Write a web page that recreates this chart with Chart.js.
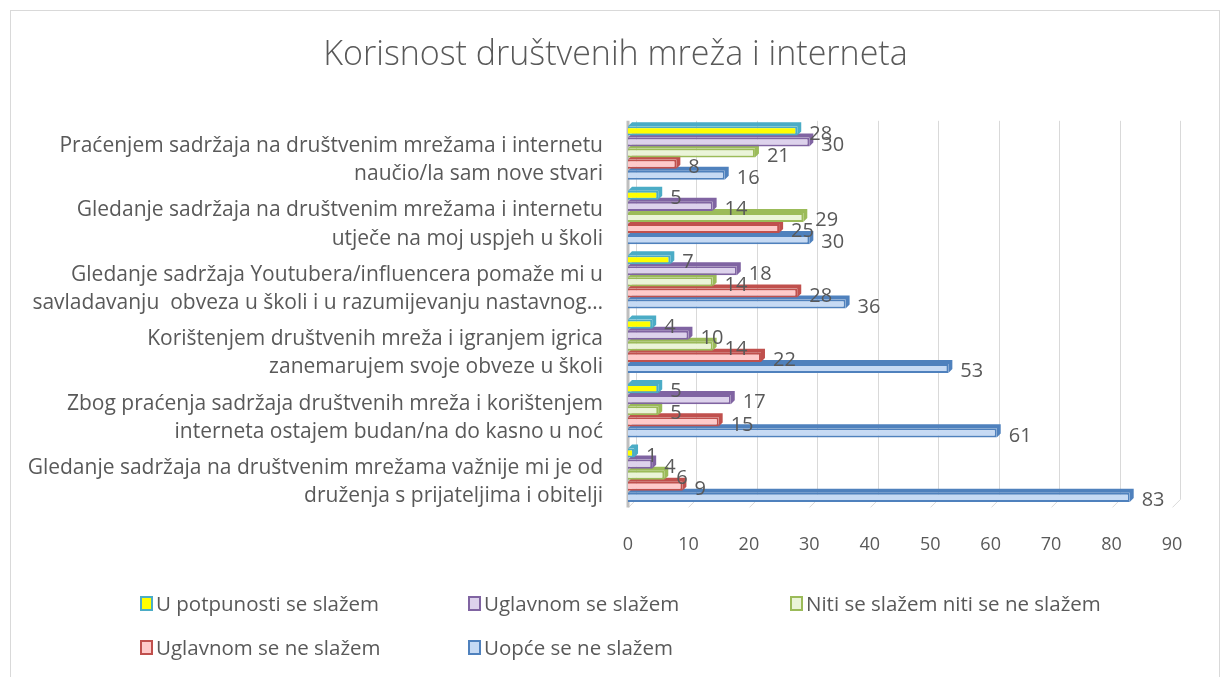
<!DOCTYPE html>
<html>
<head>
<meta charset="utf-8">
<script src="https://cdn.jsdelivr.net/npm/chart.js@4"></script>
<style>
  html, body { margin: 0; padding: 0; background: #fff; }
  #wrap { position: relative; width: 1231px; height: 677px; }
  #frame { position: absolute; left: 10px; top: 10px; width: 1210px; height: 680px; border: 1px solid #D9D9D9; box-sizing: border-box; }
  #legend { position: absolute; left: 0; top: 0; font-family: "Open Sans", sans-serif; font-size: 20.5px; color: #595959; }
  .item { position: absolute; white-space: nowrap; display: flex; align-items: center; }
  .box { width: 9px; height: 11px; border: 2px solid; margin-right: 3px; }
</style>
</head>
<body>
<div id="wrap">
  <div id="frame"></div>
  <canvas id="chart" width="1231" height="677"></canvas>
  <div id="legend"></div>
</div>
<script>
const categories = [
  ['Praćenjem sadržaja na društvenim mrežama i internetu', 'naučio/la sam nove stvari'],
  ['Gledanje sadržaja na društvenim mrežama i internetu', 'utječe na moj uspjeh u školi'],
  ['Gledanje sadržaja Youtubera/influencera pomaže mi u', 'savladavanju  obveza u školi i u razumijevanju nastavnog…'],
  ['Korištenjem društvenih mreža i igranjem igrica', 'zanemarujem svoje obveze u školi'],
  ['Zbog praćenja sadržaja društvenih mreža i korištenjem', 'interneta ostajem budan/na do kasno u noć'],
  ['Gledanje sadržaja na društvenim mrežama važnije mi je od', 'druženja s prijateljima i obitelji']
];

const seriesNames = [
  'U potpunosti se slažem',
  'Uglavnom se slažem',
  'Niti se slažem niti se ne slažem',
  'Uglavnom se ne slažem',
  'Uopće se ne slažem'
];

const potpunoSlazem = [28, 5, 7, 4, 5, 1];
const uglavnomSlazem = [30, 14, 18, 10, 17, 4];
const nitiNiti = [21, 29, 14, 14, 5, 6];
const uglavnomNeSlazem = [8, 25, 28, 22, 15, 9];
const uopceNeSlazem = [16, 30, 36, 53, 61, 83];

const xTicks = [0, 10, 20, 30, 40, 50, 60, 70, 80, 90];

const fills = ['#FFFF00', '#DDD2EC', '#EAF4D8', '#FFCACA', '#C6DAF4'];
const borders = ['#4BACC6', '#8064A2', '#9BBB59', '#C0504D', '#4F81BD'];

const seriesValues = [potpunoSlazem, uglavnomSlazem, nitiNiti, uglavnomNeSlazem, uopceNeSlazem];

const depth = 4;
const textColor = '#595959';
const font = '"Open Sans", sans-serif';

// back wall grid with slanted floor ticks
const gridPlugin = {
  id: 'grid3d',
  beforeDatasetsDraw(chart) {
    const ctx = chart.ctx;
    const x = chart.scales.x;
    const area = chart.chartArea;
    ctx.save();
    ctx.strokeStyle = '#D9D9D9';
    ctx.lineWidth = 1;
    xTicks.forEach(v => {
      const px = Math.round(x.getPixelForValue(v)) + 0.5;
      ctx.beginPath();
      ctx.moveTo(px + 8, area.top);
      ctx.lineTo(px + 8, area.bottom - 8);
      ctx.lineTo(px, area.bottom);
      ctx.stroke();
    });
    // left wall
    ctx.strokeStyle = '#BFBFBF';
    ctx.lineWidth = 3;
    ctx.beginPath();
    ctx.moveTo(area.left, area.top);
    ctx.lineTo(area.left, area.bottom);
    ctx.stroke();
    ctx.restore();
  }
};

// depth faces behind each bar
const depthPlugin = {
  id: 'depth3d',
  beforeDatasetDraw(chart, args) {
    const ctx = chart.ctx;
    const meta = args.meta;
    ctx.save();
    ctx.fillStyle = borders[args.index];
    meta.data.forEach(bar => {
      const p = bar.getProps(['x', 'y', 'base', 'height'], true);
      const top = p.y - p.height / 2;
      const bot = p.y + p.height / 2;
      ctx.beginPath();
      ctx.moveTo(p.base, top);
      ctx.lineTo(p.base + depth, top - depth);
      ctx.lineTo(p.x + depth, top - depth);
      ctx.lineTo(p.x + depth, bot - depth);
      ctx.lineTo(p.x, bot);
      ctx.lineTo(p.x, top);
      ctx.closePath();
      ctx.fill();
    });
    ctx.restore();
  }
};

const labelPlugin = {
  id: 'valueLabels',
  afterDatasetsDraw(chart) {
    const ctx = chart.ctx;
    ctx.save();
    ctx.font = '20px ' + font;
    ctx.fillStyle = textColor;
    ctx.textAlign = 'left';
    ctx.textBaseline = 'middle';
    chart.data.datasets.forEach((ds, i) => {
      chart.getDatasetMeta(i).data.forEach((bar, j) => {
        ctx.fillText(String(ds.data[j]), bar.x + 12, bar.y + 3);
      });
    });
    ctx.restore();
  }
};

const datasets = seriesNames.map((name, i) => ({
  label: name,
  data: seriesValues[i],
  backgroundColor: fills[i],
  borderColor: borders[i],
  borderWidth: 2,
  categoryPercentage: 0.86,
  barPercentage: 0.82
}));

new Chart(document.getElementById('chart'), {
  type: 'bar',
  data: { labels: categories, datasets: datasets },
  options: {
    indexAxis: 'y',
    responsive: false,
    animation: false,
    layout: { padding: { left: 0, right: 0, top: 0, bottom: 94 } },
    scales: {
      x: {
        min: 0,
        max: 90,
        ticks: {
          stepSize: 10,
          padding: 27,
          color: textColor,
          font: { family: font, size: 18 }
        },
        grid: { display: false, drawTicks: false },
        border: { display: false }
      },
      y: {
        afterFit(scale) { scale.width = 628; },
        ticks: {
          padding: 25,
          labelOffset: 7,
          color: textColor,
          font: { family: font, size: 21, lineHeight: 1.35 }
        },
        grid: { display: false, drawTicks: false },
        border: { display: false }
      },
      // empty right-hand margin so the title stays centred on the page
      yRight: {
        type: 'category',
        axis: 'y',
        position: 'right',
        afterFit(scale) { scale.width = 59; },
        ticks: { display: false },
        grid: { display: false, drawTicks: false },
        border: { display: false }
      }
    },
    plugins: {
      legend: { display: false },
      tooltip: { enabled: false },
      title: {
        display: true,
        text: 'Korisnost društvenih mreža i interneta',
        color: textColor,
        font: { family: font, size: 34, weight: 300 },
        padding: { top: 35, bottom: 45 }
      }
    }
  },
  plugins: [gridPlugin, depthPlugin, labelPlugin]
});

// legend in three columns, two rows
const legendPos = [[140, 604], [468, 604], [790, 604], [140, 648], [468, 648]];
const legend = document.getElementById('legend');
seriesNames.forEach((name, i) => {
  const item = document.createElement('div');
  item.className = 'item';
  item.style.left = legendPos[i][0] + 'px';
  item.style.top = (legendPos[i][1] - 15) + 'px';
  const box = document.createElement('span');
  box.className = 'box';
  box.style.background = fills[i];
  box.style.borderColor = borders[i];
  item.appendChild(box);
  item.appendChild(document.createTextNode(name));
  legend.appendChild(item);
});
</script>
</body>
</html>
